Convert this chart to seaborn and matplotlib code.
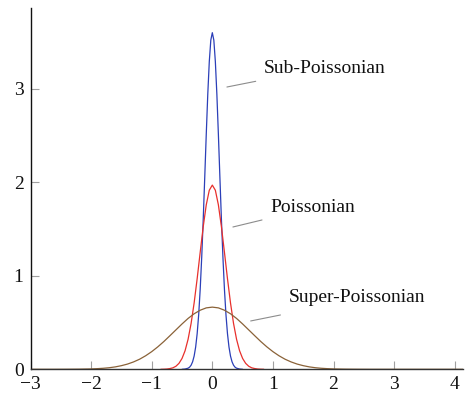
import matplotlib
matplotlib.use("Agg")
import matplotlib.pyplot as plt
import seaborn as sns

# ---- data ----
sub_x = [-0.5, -0.45, -0.4, -0.375, -0.35, -0.325, -0.3, -0.275, -0.25, -0.225, -0.2,
         -0.175, -0.15, -0.125, -0.1, -0.075, -0.05, -0.025, 0.0, 0.025, 0.05, 0.075,
         0.1, 0.125, 0.15, 0.175, 0.2, 0.225, 0.25, 0.275, 0.3, 0.325, 0.35, 0.375,
         0.4, 0.45, 0.5]
sub_y = [0.0, 0.003, 0.012, 0.023, 0.044, 0.081, 0.142, 0.238, 0.382, 0.585, 0.856,
         1.199, 1.605, 2.054, 2.514, 2.942, 3.291, 3.520, 3.600, 3.520, 3.291, 2.942,
         2.514, 2.054, 1.605, 1.199, 0.856, 0.585, 0.382, 0.238, 0.142, 0.081, 0.044,
         0.023, 0.012, 0.003, 0.0]

poi_x = [-0.85, -0.8, -0.75, -0.7, -0.65, -0.6, -0.55, -0.5, -0.45, -0.4, -0.35, -0.3,
         -0.25, -0.2, -0.15, -0.1, -0.05, 0.0, 0.05, 0.1, 0.15, 0.2, 0.25, 0.3, 0.35,
         0.4, 0.45, 0.5, 0.55, 0.6, 0.65, 0.7, 0.75, 0.8, 0.85]
poi_y = [0.0, 0.001, 0.003, 0.008, 0.016, 0.033, 0.064, 0.116, 0.198, 0.321, 0.491, 0.710,
         0.970, 1.252, 1.526, 1.759, 1.915, 1.970, 1.915, 1.759, 1.526, 1.252, 0.970,
         0.710, 0.491, 0.321, 0.198, 0.116, 0.064, 0.033, 0.016, 0.008, 0.003, 0.001, 0.0]

sup_x = [-3.0, -2.6, -2.4, -2.2, -2.0, -1.9, -1.8, -1.7, -1.6, -1.5, -1.4, -1.3, -1.2,
         -1.1, -1.0, -0.9, -0.8, -0.7, -0.6, -0.5, -0.4, -0.3, -0.2, -0.1, 0.0, 0.1,
         0.2, 0.3, 0.4, 0.5, 0.6, 0.7, 0.8, 0.9, 1.0, 1.1, 1.2, 1.3, 1.4, 1.5, 1.6,
         1.7, 1.8, 1.9, 2.0, 2.2, 2.4, 2.6, 4.2]
sup_y = [0.0, 0.0, 0.0005, 0.0015, 0.004, 0.007, 0.011, 0.017, 0.026, 0.039, 0.056, 0.079,
         0.108, 0.145, 0.189, 0.240, 0.297, 0.359, 0.422, 0.485, 0.544, 0.594, 0.632,
         0.657, 0.665, 0.657, 0.632, 0.594, 0.544, 0.485, 0.422, 0.359, 0.297, 0.240,
         0.189, 0.145, 0.108, 0.079, 0.056, 0.039, 0.026, 0.017, 0.011, 0.007, 0.004,
         0.0015, 0.0005, 0.0, 0.0]

x_ticks = [-3, -2, -1, 0, 1, 2, 3, 4]
y_ticks = [0, 1, 2, 3]
labels = ["Sub-Poissonian", "Poissonian", "Super-Poissonian"]

# ---- style ----
sns.set_style("ticks")
plt.rcParams["font.family"] = ["Liberation Serif", "DejaVu Serif"]
plt.rcParams["mathtext.fontset"] = "stix"

fig = plt.figure(figsize=(4.66, 3.96), dpi=100)
ax = fig.add_axes([0.0655, 0.0674, 0.9281, 0.9124])

blue = "#2b3fb8"
red = "#e8302c"
brown = "#8a6238"

sns.lineplot(x=sub_x, y=sub_y, ax=ax, color=blue, linewidth=0.9)
sns.lineplot(x=poi_x, y=poi_y, ax=ax, color=red, linewidth=0.9)
sns.lineplot(x=sup_x, y=sup_y, ax=ax, color=brown, linewidth=0.9)

ax.set_xlim(-3, 4.137)
ax.set_ylim(0, 3.864)
ax.set_xticks(x_ticks)
ax.set_yticks(y_ticks)
ax.tick_params(direction="in", length=5.8, width=0.8, color="#a0a0a0",
               labelsize=14, pad=5, labelcolor="#111111")

for side in ["top", "right"]:
    ax.spines[side].set_visible(False)
ax.spines["left"].set_color("#111111")
ax.spines["bottom"].set_color("#333333")
ax.spines["left"].set_linewidth(1.0)
ax.spines["bottom"].set_linewidth(1.0)

# annotations (leader lines + labels)
ann = [
    ((0.241, 3.019), (0.716, 3.080), (0.853, 3.219)),
    ((0.340, 1.522), (0.820, 1.597), (0.959, 1.728)),
    ((0.633, 0.517), (1.124, 0.581), (1.261, 0.766)),
]
for lab, (p0, p1, pt) in zip(labels, ann):
    ax.plot([p0[0], p1[0]], [p0[1], p1[1]], color="#8c8c8c", linewidth=0.8)
    ax.text(pt[0], pt[1], lab, fontsize=14, ha="left", va="center", color="#111111")

fig.savefig("out.png", dpi=100)
